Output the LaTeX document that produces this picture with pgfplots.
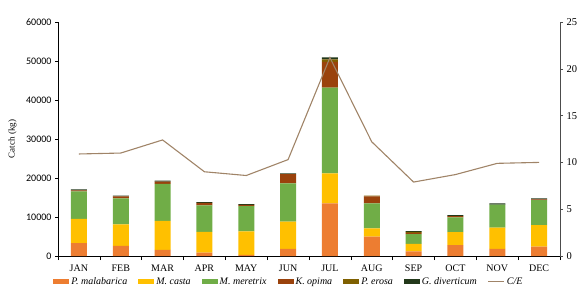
\documentclass[border=0pt]{standalone}
\usepackage{pgfplots}
\pgfplotsset{compat=1.18}
\usepackage{pgfplotstable}
\usepackage{fontspec}
\setmainfont{Liberation Serif}
\newfontfamily\calfont{Carlito}
\definecolor{cPM}{HTML}{ED7D31}
\definecolor{cMC}{HTML}{FFC000}
\definecolor{cMM}{HTML}{70AD47}
\definecolor{cKO}{HTML}{9A420C}
\definecolor{cPE}{HTML}{7F6000}
\definecolor{cGD}{HTML}{22381A}
\definecolor{cCE}{HTML}{A08468}
\pgfplotstableread{
x pm mc mm ko pe gd ce
0 3300 6200 7100 200 0 300 10.9
1 2600 5500 6700 500 0 200 11.0
2 1600 7400 9500 600 0 200 12.4
3 850 5350 6800 600 0 200 9.0
4 300 6000 6500 300 0 200 8.6
5 1800 7000 9800 2400 0 200 10.3
6 13500 7700 22000 6600 600 500 21.2
7 5000 2100 6400 1800 200 0 12.2
8 1200 1900 2500 300 300 200 7.9
9 2800 3300 3800 300 0 300 8.7
10 1800 5500 5900 0 0 300 9.9
11 2400 5500 6400 200 0 300 10.0
}\datatable
\begin{document}
\begin{tikzpicture}
\begin{axis}[
  scale only axis, width=502pt, height=234pt,
  at={(0,0)}, anchor=south west,
  xmin=-0.5, xmax=11.5, ymin=0, ymax=60000,
  axis x line*=bottom, axis y line*=left,
  ybar stacked, bar width=16pt,
  xtick={0,...,11},
  xticklabels={JAN,FEB,MAR,APR,MAY,JUN,JUL,AUG,SEP,OCT,NOV,DEC},
  x tick label style={font=\fontsize{10}{12}\selectfont, yshift=-2pt},
  major x tick style={draw=none},
  minor xtick={-0.5,0.5,...,11.5},
  minor x tick style={black, line width=0.6pt},
  minor tick length=4pt,
  tick align=outside,
  ytick={0,10000,...,60000},
  scaled y ticks=false,
  y tick label style={font=\calfont\fontsize{10}{12}\selectfont, /pgf/number format/1000 sep={}, /pgf/number format/assume math mode=true},
  major tick length=3pt,
  y tick style={black, line width=0.6pt},
  axis line style={black, line width=0.7pt},
  ylabel={Catch (kg)},
  ylabel style={font=\fontsize{9}{11}\selectfont, at={(-38pt,0.5)}},
  legend columns=7,
  legend style={draw=none, at={(0.46,-0.111)}, anchor=center, font=\itshape\fontsize{10}{12}\selectfont, /tikz/every even column/.append style={column sep=9pt}},
  legend image code/.code={\fill[#1] (0pt,-2.5pt) rectangle (16pt,2.5pt);},
]
\addplot[fill=cPM, draw=none] table[x=x,y=pm]{\datatable};
\addlegendentry{P. malabarica}
\addplot[fill=cMC, draw=none] table[x=x,y=mc]{\datatable};
\addlegendentry{M. casta}
\addplot[fill=cMM, draw=none] table[x=x,y=mm]{\datatable};
\addlegendentry{M. meretrix}
\addplot[fill=cKO, draw=none] table[x=x,y=ko]{\datatable};
\addlegendentry{K. opima}
\addplot[fill=cPE, draw=none] table[x=x,y=pe]{\datatable};
\addlegendentry{P. erosa}
\addplot[fill=cGD, draw=none] table[x=x,y=gd]{\datatable};
\addlegendentry{G. diverticum}
\addlegendimage{legend image code/.code={\draw[cCE, line width=1pt] (0pt,0pt) -- (16pt,0pt);}}
\addlegendentry{C/E}
\end{axis}
\begin{axis}[
  scale only axis, width=502pt, height=234pt,
  at={(0,0)}, anchor=south west,
  xmin=-0.5, xmax=11.5, ymin=0, ymax=25,
  axis x line=none, axis y line*=right,
  ytick={0,5,...,25},
  y tick label style={font=\fontsize{10.5}{12}\selectfont, /pgf/number format/assume math mode=true},
  tick align=outside, major tick length=3pt,
  y tick style={black!70, line width=0.6pt},
  axis line style={black!70, line width=0.7pt},
]
\addplot[cCE, line width=1.1pt, mark=none] table[x=x,y=ce]{\datatable};
\end{axis}
\pgfresetboundingbox
\useasboundingbox (-58pt,-39pt) rectangle (527pt,256pt);
\end{tikzpicture}
\end{document}
